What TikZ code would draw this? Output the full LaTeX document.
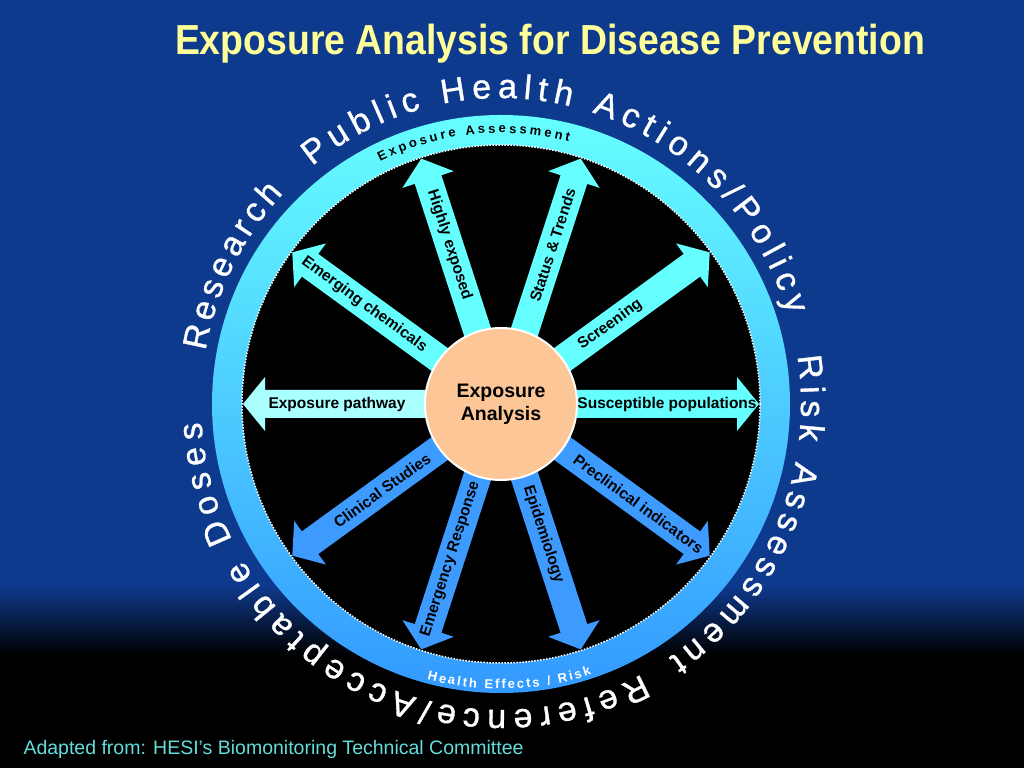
\documentclass[tikz,border=0pt]{standalone}
\usepackage{fontspec}
\setmainfont{Liberation Sans}
\newfontfamily\narrowfont[FakeStretch=0.89]{Liberation Sans}
\newfontfamily\wheelfont[FakeBold=1]{Liberation Sans}
\usetikzlibrary{decorations.text}
\definecolor{bgblue}{RGB}{14,58,142}
\definecolor{titleyellow}{RGB}{255,255,153}
\definecolor{ringtop}{RGB}{102,255,255}
\definecolor{ringbot}{RGB}{51,153,255}
\definecolor{armcyan}{RGB}{102,255,255}
\definecolor{armpale}{RGB}{170,255,255}
\definecolor{armblue}{RGB}{61,155,255}
\definecolor{hubpeach}{RGB}{252,198,150}
\definecolor{creditcyan}{RGB}{100,220,220}
\newcommand{\ringfont}{\fontsize{34}{34}\wheelfont}
\newcommand{\bandfont}{\fontsize{13}{13}\selectfont\bfseries}

\begin{document}
\begin{tikzpicture}[x=1pt,y=1pt,
  arm/.style={shift={(hub)},rotate=#1},
  armlabel/.style={font=\fontsize{15.5}{16}\selectfont\bfseries,text=black,inner sep=0pt},
  ringtext/.style={decorate,decoration={text along path,text align=fit to path,text color=white}},
  bandtext/.style={decorate,decoration={text along path,text align=fit to path}}]
\useasboundingbox (0,0) rectangle (1024,768);

% background
\fill[black] (0,0) rectangle (1024,768);
\fill[bgblue] (0,183) rectangle (1024,768);
\shade[top color=bgblue,bottom color=black] (0,113) rectangle (1024,183);

\coordinate (hub) at (501,364);

% wheel
\shade[top color=ringtop,bottom color=ringbot] (hub) circle[radius=289];
\fill[black] (hub) circle[radius=259];
\draw[white,line width=1.5pt,dash pattern=on 1.5pt off 1.5pt] (hub) circle[radius=259];

% spokes
\fill[armcyan,arm=0] (60,-14) -- (236,-14) -- (236,-27) -- (258,0) -- (236,27) -- (236,14) -- (60,14) -- cycle;
\node[armlabel] (susceptible) at ([shift={(0:166)}]hub) {Susceptible populations};

\fill[armcyan,arm=36] (60,-14) -- (236,-14) -- (236,-27) -- (258,0) -- (236,27) -- (236,14) -- (60,14) -- cycle;
\node[armlabel,rotate=36] (screening) at ([shift={(36:135)}]hub) {Screening};

\fill[armcyan,arm=72] (60,-14) -- (236,-14) -- (236,-27) -- (258,0) -- (236,27) -- (236,14) -- (60,14) -- cycle;
\node[armlabel,rotate=72] (status) at ([shift={(72:167)}]hub) {Status \& Trends};

\fill[armcyan,arm=108] (60,-14) -- (236,-14) -- (236,-27) -- (258,0) -- (236,27) -- (236,14) -- (60,14) -- cycle;
\node[armlabel,rotate=-72] (highly) at ([shift={(108:167)}]hub) {Highly exposed};

\fill[armcyan,arm=144] (60,-14) -- (236,-14) -- (236,-27) -- (258,0) -- (236,27) -- (236,14) -- (60,14) -- cycle;
\node[armlabel,rotate=-36] (emerging) at ([shift={(144:169)}]hub) {Emerging chemicals};

\fill[armpale,arm=180] (60,-14) -- (236,-14) -- (236,-27) -- (258,0) -- (236,27) -- (236,14) -- (60,14) -- cycle;
\node[armlabel] (pathway) at ([shift={(180:164)}]hub) {Exposure pathway};

\fill[armblue,arm=216] (60,-14) -- (236,-14) -- (236,-27) -- (258,0) -- (236,27) -- (236,14) -- (60,14) -- cycle;
\node[armlabel,rotate=36] (clinical) at ([shift={(216:147)}]hub) {Clinical Studies};

\fill[armblue,arm=252] (60,-14) -- (236,-14) -- (236,-27) -- (258,0) -- (236,27) -- (236,14) -- (60,14) -- cycle;
\node[armlabel,rotate=72] (emergency) at ([shift={(252:163)}]hub) {Emergency Response};

\fill[armblue,arm=288] (60,-14) -- (236,-14) -- (236,-27) -- (258,0) -- (236,27) -- (236,14) -- (60,14) -- cycle;
\node[armlabel,rotate=-72] (epidemiology) at ([shift={(288:137)}]hub) {Epidemiology};

\fill[armblue,arm=324] (60,-14) -- (236,-14) -- (236,-27) -- (258,0) -- (236,27) -- (236,14) -- (60,14) -- cycle;
\node[armlabel,rotate=-36] (preclinical) at ([shift={(324:170)}]hub) {Preclinical indicators};

% centre
\node[circle,fill=hubpeach,draw=white,line width=2pt,minimum size=152pt,inner sep=0pt,align=center,
  font=\fontsize{19.5}{23}\selectfont\bfseries] (core) at (hub) {Exposure\\Analysis};

% texts round the wheel
\path[ringtext,decoration={text={|\ringfont|Research}}]
  ([shift={(170:300 and 306)}]hub) arc[start angle=170,end angle=136.5,x radius=300,y radius=306];
\path[ringtext,decoration={text={|\ringfont|Public Health Actions/Policy}}]
  ([shift={(129:300 and 306)}]hub) arc[start angle=129,end angle=17,x radius=300,y radius=306];
\path[ringtext,decoration={text={|\ringfont|Risk Assessment}}]
  ([shift={(9:300 and 306)}]hub) arc[start angle=9,end angle=-56,x radius=300,y radius=306];
\path[ringtext,decoration={text={|\ringfont|Reference/Acceptable Doses}}]
  ([shift={(-62:300 and 306)}]hub) arc[start angle=-62,end angle=-176.6,x radius=300,y radius=306];

\path[bandtext,decoration={text={|\bandfont|Exposure Assessment}}]
  ([shift={(116.5:271)}]hub) arc[start angle=116.5,end angle=75.5,radius=271];
\path[bandtext,decoration={text={|\bandfont|Health Effects / Risk},text color=white}]
  ([shift={(255:285)}]hub) arc[start angle=255,end angle=288.5,radius=285];

% title and credit
\node[anchor=base,text=titleyellow,font=\fontsize{42}{42}\narrowfont\bfseries] (title) at (550,713)
  {Exposure Analysis for Disease Prevention};
\node[anchor=base west,text=creditcyan,font=\fontsize{19.5}{20}\selectfont] (credit) at (20,14)
  {Adapted from: HESI’s Biomonitoring Technical Committee};
\end{tikzpicture}
\end{document}
